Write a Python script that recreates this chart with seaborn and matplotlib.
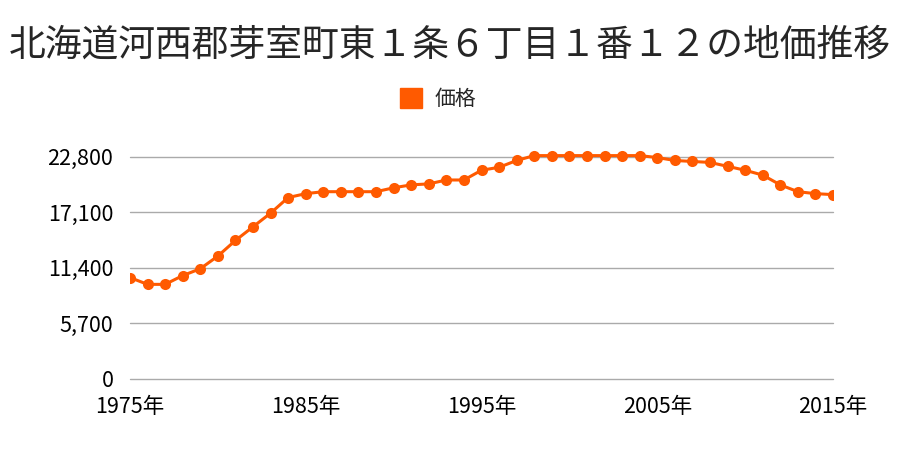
import matplotlib
matplotlib.use("Agg")
import matplotlib.pyplot as plt
import seaborn as sns
import pandas as pd
from matplotlib.ticker import FuncFormatter, FixedLocator
from matplotlib.patches import Patch

years = list(range(1975, 2016))
prices = [10400, 9700, 9700, 10600, 11300, 12600, 14200, 15600, 17000, 18600,
          19000, 19200, 19200, 19200, 19200, 19600, 19900, 20000, 20400, 20400,
          21400, 21700, 22400, 22900, 22900, 22900, 22900, 22900, 22900, 22900,
          22700, 22400, 22300, 22200, 21800, 21400, 20900, 19900, 19200, 19000,
          18900]
yticks = [0, 5700, 11400, 17100, 22800]
xticks = [1975, 1985, 1995, 2005, 2015]
title = "北海道河西郡芽室町東１条６丁目１番１２の地価推移"
series_name = "価格"
color = "#ff5a00"

df = pd.DataFrame({"year": years, "price": prices})

sns.set_theme(style="white")
plt.rcParams['font.family'] = ['Noto Sans CJK JP', 'DejaVu Sans']

fig = plt.figure(figsize=(9, 4.5), dpi=100)
ax = fig.add_axes([0.1444, 0.1578, 0.7812, 0.5311])
sns.lineplot(data=df, x="year", y="price", ax=ax, color=color, linewidth=2.2,
             marker="o", markersize=8, markeredgewidth=0, markeredgecolor=color)

ax.set_xlim(1975, 2015)
ax.set_ylim(0, 24500)
ax.yaxis.set_major_locator(FixedLocator(yticks))
ax.xaxis.set_major_locator(FixedLocator(xticks))
ax.yaxis.set_major_formatter(FuncFormatter(lambda v, p: f"{int(v):,}"))
ax.set_xticklabels([f"{y}年" for y in xticks])
ax.grid(axis="y", color="#aaaaaa", linewidth=1)
for gl in ax.get_ygridlines():
    gl.set_clip_on(False)
ax.set_axisbelow(True)
for s in ax.spines.values():
    s.set_visible(False)
ax.tick_params(axis="both", labelsize=15.5, length=0, colors="black")
ax.tick_params(axis="y", pad=12)
ax.tick_params(axis="x", pad=12)
ax.set_xlabel("")
ax.set_ylabel("")

fig.text(0.5, 0.9, title, ha="center", va="center", fontsize=26.5)
fig.legend(handles=[Patch(color=color, label=series_name)], loc="center",
           bbox_to_anchor=(0.487, 0.78), frameon=False, fontsize=15,
           handlelength=1.05, handleheight=1.05, handletextpad=0.6)

fig.savefig("out.png", dpi=100)
